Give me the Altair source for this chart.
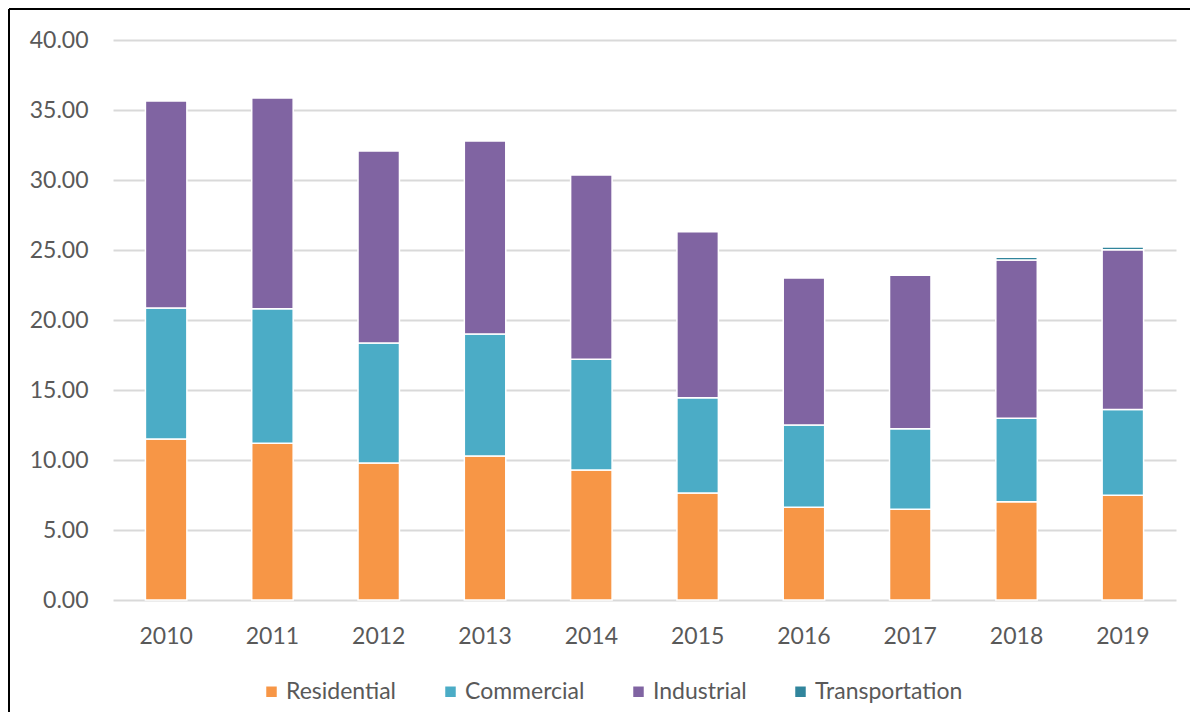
import altair as alt
import pandas as pd

years = ["2010", "2011", "2012", "2013", "2014", "2015", "2016", "2017", "2018", "2019"]
residential = [11.50, 11.20, 9.79, 10.29, 9.29, 7.64, 6.62, 6.48, 7.02, 7.48]
commercial = [9.36, 9.60, 8.57, 8.71, 7.91, 6.81, 5.88, 5.76, 5.96, 6.12]
industrial = [14.78, 15.06, 13.71, 13.79, 13.16, 11.86, 10.50, 10.95, 11.31, 11.42]
transportation = [0, 0, 0, 0, 0, 0, 0, 0, 0.20, 0.20]

sectors = ["Residential", "Commercial", "Industrial", "Transportation"]
colors = ["#F79646", "#4BACC6", "#8064A2", "#31859C"]
series = [residential, commercial, industrial, transportation]

rows = []
for si, (name, vals) in enumerate(zip(sectors, series)):
    for y, v in zip(years, vals):
        if v > 0:
            rows.append({"Year": y, "Sector": name, "Value": v, "order": si})
df = pd.DataFrame(rows)

FONT = "Lato"
TXT = "#595959"

bars = alt.Chart(df).mark_bar(stroke="white", strokeWidth=1.5).encode(
    x=alt.X("Year:N", sort=years,
            scale=alt.Scale(paddingInner=0.61, paddingOuter=0.305),
            axis=alt.Axis(title=None, labelAngle=0, domain=False, ticks=False,
                          labelPadding=25, labelFontSize=23, labelFont=FONT,
                          labelColor=TXT, grid=False)),
    y=alt.Y("Value:Q", stack="zero",
            scale=alt.Scale(domain=[0, 40], nice=False),
            axis=alt.Axis(title=None, values=[0, 5, 10, 15, 20, 25, 30, 35, 40],
                          format=".2f", domain=False, ticks=False, labelPadding=25,
                          labelFontSize=23, labelFont=FONT, labelColor=TXT,
                          grid=True, gridColor="#D9D9D9", gridWidth=2)),
    color=alt.Color("Sector:N", scale=alt.Scale(domain=sectors, range=colors),
                    legend=alt.Legend(title=None, orient="none", legendX=147, legendY=640,
                                      direction="horizontal", columns=4,
                                      symbolType="square", symbolSize=110,
                                      symbolStrokeWidth=0, labelFontSize=23,
                                      labelFont=FONT, labelColor=TXT,
                                      columnPadding=42, labelOffset=3)),
    order=alt.Order("order:Q", sort="ascending"),
)

frame_left = alt.Chart(alt.Data(values=[{}])).mark_rule(color="black", strokeWidth=2).encode(
    x=alt.value(-104), y=alt.value(-31), y2=alt.value(700))
frame_top = alt.Chart(alt.Data(values=[{}])).mark_rule(color="black", strokeWidth=2).encode(
    x=alt.value(-104), x2=alt.value(1100), y=alt.value(-31))

chart = alt.layer(bars, frame_left, frame_top).properties(
    width=1063, height=560,
    autosize=alt.AutoSizeParams(type="none"),
    padding={"left": 105, "top": 32, "right": 14, "bottom": 112},
).configure(background="white").configure_view(stroke=None)

chart.save("out.html", embed_options={"renderer": "svg", "actions": False})
